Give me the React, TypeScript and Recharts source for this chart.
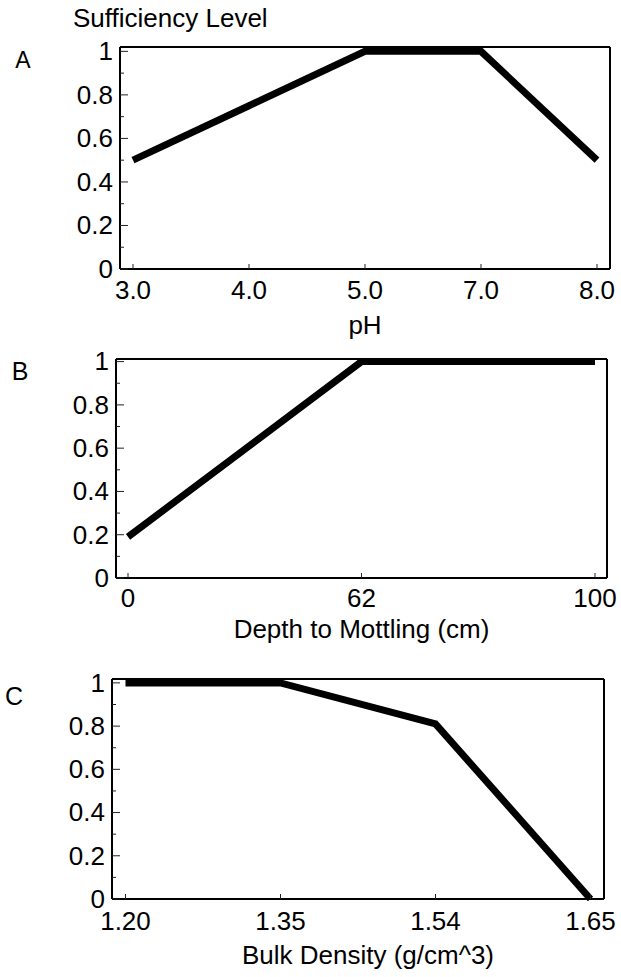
import { LineChart, Line, XAxis, YAxis } from "recharts";

// sufficiency ticks: majors every 0.2 get labels, the 0.1 steps are minor ticks
const yTicks = [0, 0.1, 0.2, 0.3, 0.4, 0.5, 0.6, 0.7, 0.8, 0.9, 1];

const phLevels = ["3.0", "4.0", "5.0", "7.0", "8.0"];
const phSufficiency = [0.5, 0.75, 1, 1, 0.5];

const mottlingDepths = ["0", "62", "100"];
const mottlingSufficiency = [0.19, 1, 1];

const bulkDensities = ["1.20", "1.35", "1.54", "1.65"];
const bulkSufficiency = [1, 1, 0.81, 0];

const FONT = "'Liberation Sans', Arial, Helvetica, sans-serif";

const fmt = (v: number) => (v === 0 ? "0" : v === 1 ? "1" : v.toFixed(1));

const YTick = (props: any) => {
  const { x, y, payload } = props;
  const major = Math.round(payload.value * 10) % 2 === 0;
  return (
    <g>
      <line x1={x} x2={x + (major ? 8 : 4)} y1={y} y2={y} stroke="#222" strokeWidth={1} />
      {major && (
        <text x={x - 7} y={y} dy="0.34em" textAnchor="end" fontSize={26} fontFamily={FONT} fill="#000">
          {fmt(payload.value)}
        </text>
      )}
    </g>
  );
};

const makeXTick = (gap: number) => (props: any) => {
  const { x, y, payload } = props;
  return (
    <g>
      <line x1={x} x2={x} y1={y} y2={y - 5} stroke="#222" strokeWidth={1} />
      <text x={x} y={y + gap} dy="0.71em" textAnchor="middle" fontSize={26} fontFamily={FONT} fill="#000">
        {payload.value}
      </text>
    </g>
  );
};

type PanelProps = {
  xs: string[];
  ys: number[];
  top: number;
  height: number;
  left: number;
  right: number;
  marginTop: number;
  axisHeight: number;
  yMax: number;
  pad: number;
  gap: number;
  label: string;
  labelOffset: number;
  labelDx?: number;
};

const Panel = (p: PanelProps) => {
  const data = p.xs.map((x, i) => ({ x, y: p.ys[i] }));
  const edge = { stroke: "#000", strokeWidth: 2 };
  return (
    <div style={{ position: "absolute", left: 0, top: p.top }}>
      <LineChart
        width={621}
        height={p.height}
        data={data}
        margin={{ top: p.marginTop, right: p.right, left: 0, bottom: 0 }}
      >
        <XAxis
          dataKey="x"
          height={p.axisHeight}
          padding={{ left: p.pad, right: p.pad }}
          axisLine={edge}
          tickLine={false}
          tickSize={0}
          tickMargin={0}
          interval={0}
          tick={makeXTick(p.gap)}
          label={{
            value: p.label,
            position: "insideBottom",
            offset: p.labelOffset,
            dx: p.labelDx ?? 0,
            fontSize: 26,
            fontFamily: FONT,
            fill: "#000",
          }}
        />
        <XAxis xAxisId="top" orientation="top" dataKey="x" height={1} axisLine={edge} tick={false} tickLine={false} />
        <YAxis
          type="number"
          domain={[0, p.yMax]}
          ticks={yTicks}
          interval={0}
          width={p.left}
          axisLine={edge}
          tickLine={false}
          tickSize={0}
          tickMargin={0}
          tick={YTick}
        />
        <YAxis
          yAxisId="right"
          orientation="right"
          type="number"
          domain={[0, p.yMax]}
          width={1}
          axisLine={edge}
          tick={false}
          tickLine={false}
        />
        <Line
          type="linear"
          dataKey="y"
          stroke="#000"
          strokeWidth={7}
          strokeLinejoin="miter"
          strokeLinecap="butt"
          dot={false}
          isAnimationActive={false}
        />
      </LineChart>
    </div>
  );
};

export default function App() {
  return (
    <div style={{ position: "absolute", left: 0, top: 0, width: 621, height: 977, background: "#fff" }}>
      <Panel
        xs={phLevels}
        ys={phSufficiency}
        top={0}
        height={340}
        left={120}
        right={10}
        marginTop={46}
        axisHeight={71}
        yMax={1.02}
        pad={13}
        gap={12}
        label="pH"
        labelOffset={6}
      />
      <Panel
        xs={mottlingDepths}
        ys={mottlingSufficiency}
        top={340}
        height={310}
        left={116}
        right={13}
        marginTop={18}
        axisHeight={72}
        yMax={1.012}
        pad={12}
        gap={11}
        label="Depth to Mottling (cm)"
        labelOffset={12}
      />
      <Panel
        xs={bulkDensities}
        ys={bulkSufficiency}
        top={650}
        height={327}
        left={112}
        right={16}
        marginTop={28}
        axisHeight={78}
        yMax={1.018}
        pad={13.5}
        gap={13}
        label="Bulk Density (g/cm^3)"
        labelOffset={13}
        labelDx={10}
      />
      <svg
        width={621}
        height={977}
        style={{ position: "absolute", left: 0, top: 0, pointerEvents: "none" }}
        fontFamily={FONT}
        fill="#000"
      >
        <text x={73} y={27} fontSize={26}>Sufficiency Level</text>
        <text x={23} y={68} fontSize={23} textAnchor="middle">A</text>
        <text x={20} y={380} fontSize={25} textAnchor="middle">B</text>
        <text x={14} y={705} fontSize={25} textAnchor="middle">C</text>
      </svg>
    </div>
  );
}
